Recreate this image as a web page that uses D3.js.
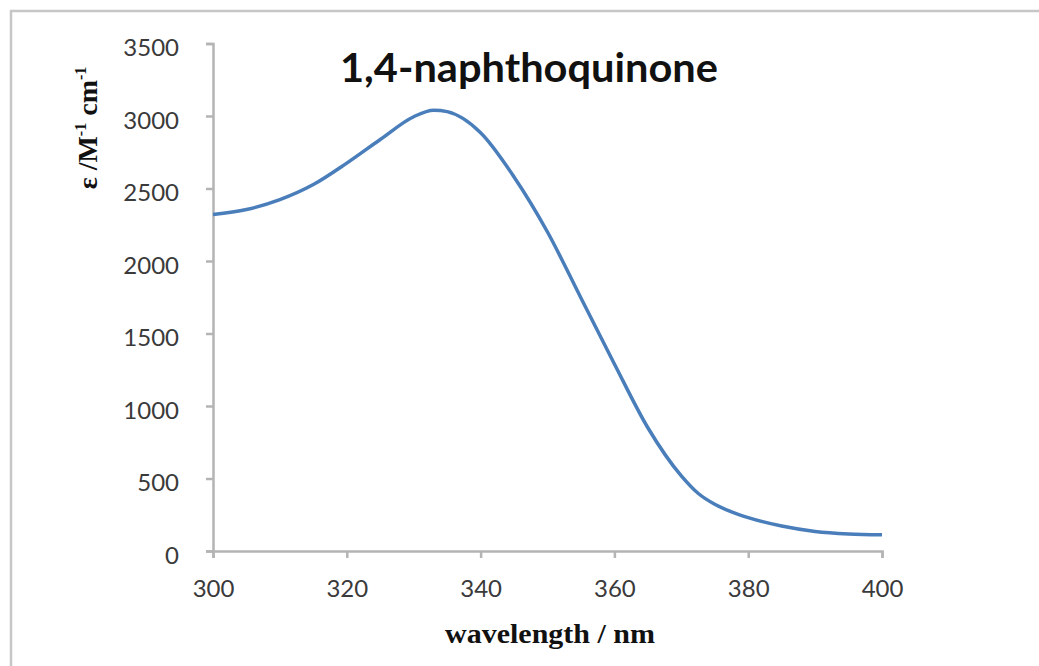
<!DOCTYPE html>
<html>
<head>
<meta charset="utf-8">
<script src="https://cdn.jsdelivr.net/npm/d3@7"></script>
<style>
  body { margin: 0; background: #fff; }
  svg { display: block; }
</style>
</head>
<body>
<svg id="drawing_region"></svg>
<script>
// absorption spectrum
const wavelengths = [300, 305, 310, 315, 320, 325, 330, 333, 335, 340, 345, 350, 355, 360, 365, 370, 372.5, 375, 377.5, 380, 385, 390, 395, 400];
const epsilon     = [2320, 2355, 2423, 2527, 2675, 2838, 2995, 3040, 3030, 2885, 2580, 2200, 1745, 1290, 850, 518, 398, 322, 270, 230, 172, 135, 118, 112];
const xTicks = [300, 320, 340, 360, 380, 400];
const yTicks = [0, 500, 1000, 1500, 2000, 2500, 3000, 3500];
const title = '1,4-naphthoquinone';
const xLabel = 'wavelength / nm';

const config = {
    width: 1039,
    height: 666,
    plot: {left: 213, right: 882, top: 43.5, bottom: 551}
};

const svg = d3.select('#drawing_region')
    .attr('width', config.width)
    .attr('height', config.height);

// outer chart frame (runs off the right and bottom edges)
svg.append('rect')
    .attr('x', 11).attr('y', 11)
    .attr('width', 1060).attr('height', 700)
    .attr('fill', 'none')
    .attr('stroke', '#c6c6c6')
    .attr('stroke-width', 2.5);

const xscale = d3.scaleLinear()
    .domain([300, 400])
    .range([config.plot.left, config.plot.right]);

const yscale = d3.scaleLinear()
    .domain([0, 3500])
    .range([config.plot.bottom, config.plot.top]);

const xaxis = d3.axisBottom(xscale)
    .tickValues(xTicks)
    .tickFormat(d3.format('d'))
    .tickSize(7)
    .tickSizeOuter(7)
    .tickPadding(22);

const yaxis = d3.axisLeft(yscale)
    .tickValues(yTicks)
    .tickFormat(d3.format('d'))
    .tickSize(7)
    .tickSizeOuter(7)
    .tickPadding(27);

const xg = svg.append('g')
    .attr('transform', `translate(0, ${config.plot.bottom})`)
    .call(xaxis);

const yg = svg.append('g')
    .attr('transform', `translate(${config.plot.left}, 0)`)
    .call(yaxis);

[xg, yg].forEach(g => {
    g.selectAll('path, line')
        .attr('stroke', '#b4b4b4')
        .attr('stroke-width', 2.5);
    g.selectAll('text')
        .attr('font-family', 'Lato, "Open Sans", sans-serif')
        .attr('font-size', 24)
        .attr('fill', '#3a3a3a');
});
yg.selectAll('text').attr('dy', '0.5em');

// spectrum
const line = d3.line()
    .x((d, i) => xscale(wavelengths[i]))
    .y(d => yscale(d))
    .curve(d3.curveMonotoneX);

svg.append('path')
    .attr('d', line(epsilon))
    .attr('fill', 'none')
    .attr('stroke', '#4a7ebb')
    .attr('stroke-width', 3.5);

// title
svg.append('text')
    .attr('x', 529).attr('y', 82)
    .attr('text-anchor', 'middle')
    .attr('font-family', 'Lato, "Open Sans", sans-serif')
    .attr('font-weight', 'bold')
    .attr('font-size', 40)
    .attr('textLength', 378)
    .attr('lengthAdjust', 'spacingAndGlyphs')
    .attr('fill', '#111')
    .text(title);

// x label
svg.append('text')
    .attr('x', 550).attr('y', 643)
    .attr('text-anchor', 'middle')
    .attr('font-family', '"Liberation Serif", "DejaVu Serif", serif')
    .attr('font-weight', 'bold')
    .attr('font-size', 27)
    .attr('textLength', 210)
    .attr('lengthAdjust', 'spacingAndGlyphs')
    .attr('fill', '#111')
    .text(xLabel);

// y label with superscripts
const ylab = svg.append('text')
    .attr('transform', 'translate(97, 128) rotate(-90)')
    .attr('text-anchor', 'middle')
    .attr('font-family', '"Liberation Serif", "DejaVu Serif", serif')
    .attr('font-weight', 'bold')
    .attr('font-size', 28)
    .attr('fill', '#111');
ylab.append('tspan').text('\u03b5 /M');
ylab.append('tspan').attr('dy', -11).attr('font-size', 16).text('-1');
ylab.append('tspan').attr('dy', 11).text(' cm');
ylab.append('tspan').attr('dy', -11).attr('font-size', 16).text('-1');
</script>
</body>
</html>
